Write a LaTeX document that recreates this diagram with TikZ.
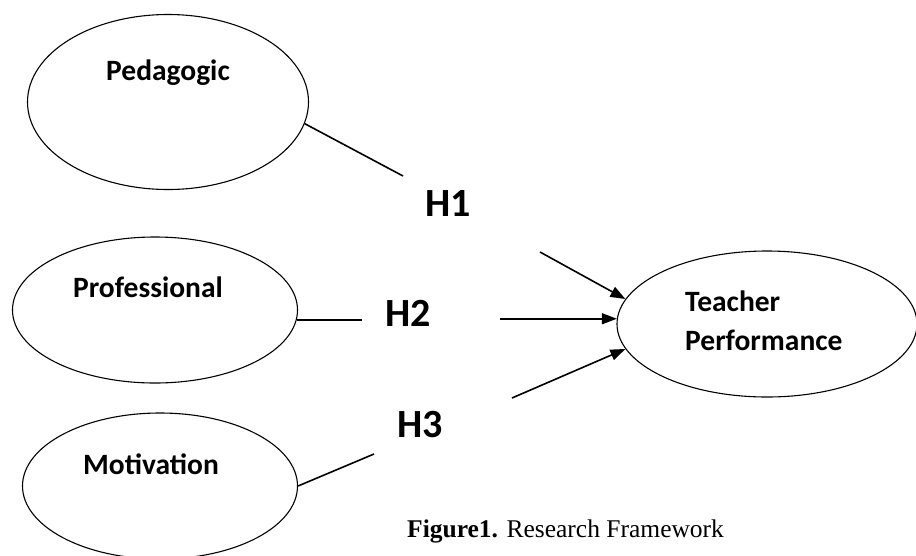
\documentclass[tikz,border=0pt]{standalone}
\usepackage{fontspec}
\usetikzlibrary{shapes.geometric,arrows.meta}
\newfontfamily\calfont{Carlito}
\newfontfamily\capfont{Liberation Serif}

\begin{document}
\begin{tikzpicture}[x=1pt, y=-1pt,
    latent/.style = {draw, ellipse, line width=1.1pt, inner sep=0pt},
    lbl/.style = {font=\calfont\bfseries\fontsize{29.5}{39}\selectfont, inner sep=0pt},
    hyp/.style = {font=\calfont\bfseries\fontsize{40}{48}\selectfont, anchor=base, inner sep=0pt},
    link/.style = {line width=1.6pt},
    effect/.style = {line width=1.6pt, -{Triangle[length=15pt, width=11pt]}}]
        \useasboundingbox (0,0) rectangle (916,555);

        % constructs
        \node[latent, minimum width=281pt, minimum height=175pt] (ped) at (168,102) {};
        \node[latent, minimum width=285pt, minimum height=146pt] (prof) at (155,310) {};
        \node[latent, minimum width=275pt, minimum height=146pt] (mot) at (160,486) {};
        \node[latent, minimum width=300pt, minimum height=146pt] (tp) at (767,324) {};

        \node[lbl, anchor=base] (pedtxt) at (168,80) {Pedagogic};
        \node[lbl, anchor=base] (proftxt) at (148,297) {Professional};
        \node[lbl, anchor=base] (mottxt) at (151,474) {Motivation};
        \node[lbl, anchor=west, align=left] (tptxt) at (685,321) {Teacher\\Performance};

        % hypotheses
        \node[hyp] (h1) at (448,216) {H1};
        \node[hyp] (h2) at (408,326) {H2};
        \node[hyp] (h3) at (420,437) {H3};

        \coordinate (h1a) at (403,176);
        \coordinate (h1b) at (540,252);
        \coordinate (h2a) at (362,319);
        \coordinate (h2b) at (500,319);
        \coordinate (h3a) at (374,454);
        \coordinate (h3b) at (512,398);

        \draw[link] (ped.-9) -- (h1a);
        \draw[effect] (h1b) -- (tp.170);
        \draw[link] (prof.-4) -- (prof.-4 -| h2a);
        \draw[effect] (h2b |- tp.178) -- (tp.178);
        \draw[link] (mot.east) -- (h3a);
        \draw[effect] (h3b) -- (tp.190);

        \node[anchor=base west, inner sep=0pt, font=\capfont\fontsize{25.5}{30}\selectfont] (cap) at (407,537) {\textbf{Figure1.} Research Framework};

    \end{tikzpicture}
\end{document}
